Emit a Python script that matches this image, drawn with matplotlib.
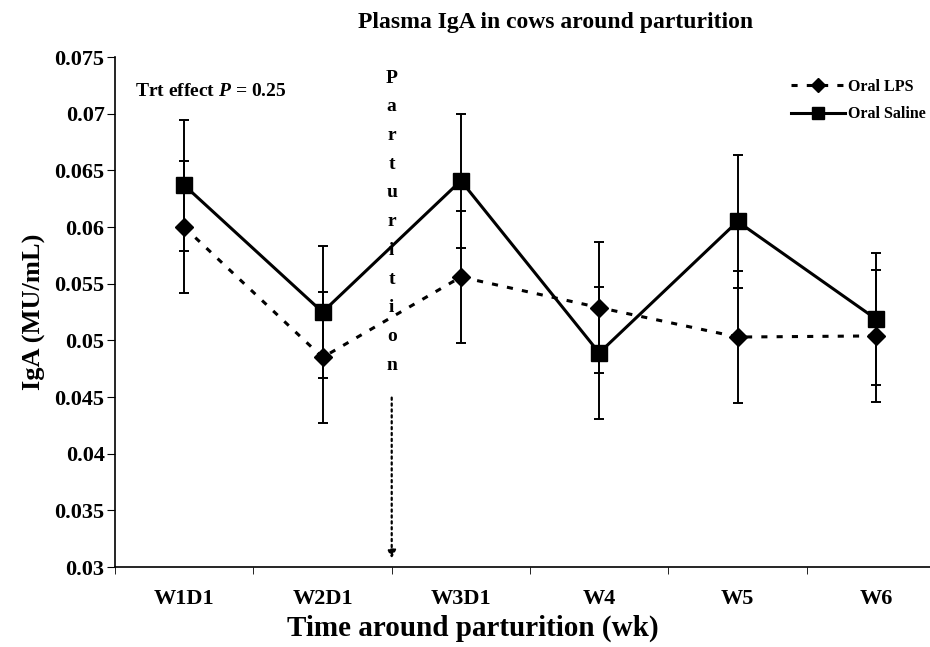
import matplotlib
matplotlib.use('Agg')
import matplotlib.pyplot as plt
from matplotlib.lines import Line2D

plt.rcParams['font.family'] = 'Liberation Serif'
plt.rcParams['font.weight'] = 'bold'
plt.rcParams['mathtext.fontset'] = 'custom'
plt.rcParams['mathtext.rm'] = 'Liberation Serif:bold'
plt.rcParams['mathtext.it'] = 'Liberation Serif:bold:italic'
plt.rcParams['mathtext.bf'] = 'Liberation Serif:bold'

# data
weeks = ['W1D1', 'W2D1', 'W3D1', 'W4', 'W5', 'W6']
lps = [0.0600, 0.0485, 0.0556, 0.0529, 0.0503, 0.0504]
lps_se = [0.0058, 0.0058, 0.0058, 0.0058, 0.0058, 0.0058]
saline = [0.0637, 0.0525, 0.0641, 0.0489, 0.0605, 0.0519]
saline_se = [0.0058, 0.0058, 0.0059, 0.0058, 0.0059, 0.0058]
yticks = [0.03, 0.035, 0.04, 0.045, 0.05, 0.055, 0.06, 0.065, 0.07, 0.075]
ylabels = ['0.03', '0.035', '0.04', '0.045', '0.05', '0.055', '0.06', '0.065', '0.07', '0.075']
word = 'Parturition'

fig = plt.figure(figsize=(9.3, 6.47), dpi=100)
ax = fig.add_axes([0.1237, 0.1236, 0.8925, 0.788])

x = list(range(len(weeks)))

ax.errorbar(x, lps, yerr=lps_se, color='black', linestyle=(0, (2, 3)), linewidth=2.2,
            marker='D', markersize=9, elinewidth=1.4, capsize=3.5, capthick=1.4, zorder=3)
ax.errorbar(x, saline, yerr=saline_se, color='black', linestyle='-', linewidth=2.2,
            marker='s', markersize=11, elinewidth=1.4, capsize=3.5, capthick=1.4, zorder=4)

ax.set_xlim(-0.5, 5.5)
ax.set_ylim(0.03, 0.075)
ax.set_yticks(yticks)
ax.set_yticklabels(ylabels, fontsize=16, fontweight='bold')
ax.set_xticks(x)
ax.set_xticklabels(weeks, fontsize=16, fontweight='bold')
ax.set_xticks([i - 0.5 for i in range(len(weeks) + 1)], minor=True)
ax.tick_params(axis='x', which='major', length=0, pad=16)
ax.tick_params(axis='x', which='minor', length=5, direction='out')
ax.tick_params(axis='y', length=6, direction='out', pad=1.5)

ax.spines['top'].set_visible(False)
ax.spines['right'].set_visible(False)
ax.spines['left'].set_linewidth(1.2)
ax.spines['bottom'].set_linewidth(1.2)

ax.set_xlabel('Time around parturition (wk)', fontsize=21, fontweight='bold', labelpad=4, x=0.431)
ax.set_ylabel('IgA (MU/mL)', fontsize=19, fontweight='bold', labelpad=6)
fig.text(0.597, 0.965, 'Plasma IgA in cows around parturition', ha='center', va='center',
         fontsize=17, fontweight='bold')

ax.text(0.024, 0.933, r'Trt effect $P$ = 0.25', transform=ax.transAxes, fontsize=14,
        fontweight='bold', va='center', ha='left')

# parturition marker
for i, ch in enumerate(word):
    ax.text(1.5, 0.959 - i * 0.0563, ch, transform=ax.get_xaxis_transform(), ha='center',
            va='center', fontsize=14, fontweight='bold')
ax.annotate('', xy=(1.5, 0.0305), xytext=(1.5, 0.0452),
            arrowprops=dict(arrowstyle='-|>', linestyle=':', linewidth=1.6, color='black',
                            mutation_scale=12))

handles = [Line2D([], [], color='black', linestyle=(0, (2, 3)), linewidth=2.2, marker='D',
                  markersize=7),
           Line2D([], [], color='black', linestyle='-', linewidth=2.2, marker='s', markersize=8)]
fig.legend(handles, ['Oral LPS', 'Oral Saline'], loc='upper left',
           bbox_to_anchor=(0.835, 0.9), frameon=False, handlelength=3.4,
           handletextpad=0.2, labelspacing=0.7, prop={'family': 'Liberation Serif',
                                                       'weight': 'bold', 'size': 11.5})

fig.savefig('out.png', dpi=100)
